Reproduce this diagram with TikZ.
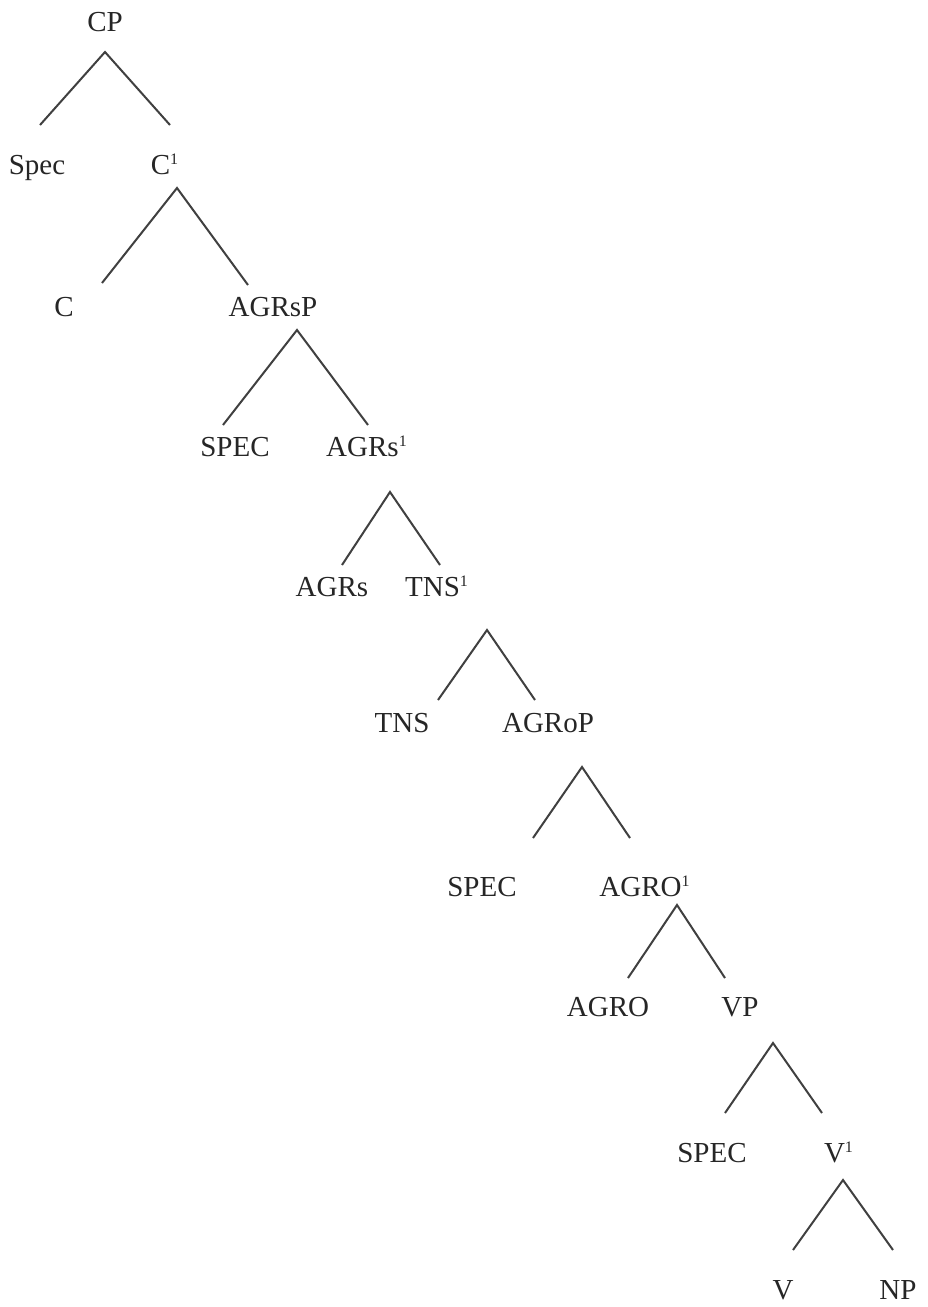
\documentclass[tikz,border=0pt]{standalone}
\usepackage{fontspec}
\setmainfont{Liberation Serif}
\tikzset{
  lbl/.style={anchor=base, inner sep=0pt, text=black!85, font=\fontsize{14.5pt}{17pt}\selectfont},
  edge/.style={draw=black!75, line width=1pt}
}
\newcommand{\pr}{\textsuperscript{\fontsize{8pt}{9pt}\selectfont 1}}
\begin{document}
\begin{tikzpicture}[x=0.5pt,y=-0.5pt]
\fill[white] (0,0) rectangle (927,1307);
\useasboundingbox (0,0) rectangle (927,1307);
% labels (base at visual center + 9.5)
\node[lbl] (CP) at (105,31.5) {CP};
\node[lbl] (Spec) at (37,174.5) {Spec};
\node[lbl] (C1) at (165,174.5) {C\pr};
\node[lbl] (C) at (64,316.5) {C};
\node[lbl] (AGRsP) at (273,316.5) {AGRsP};
\node[lbl] (SPECa) at (235,456.5) {SPEC};
\node[lbl] (AGRs1) at (367,456.5) {AGRs\pr};
\node[lbl] (AGRs) at (332,596.5) {AGRs};
\node[lbl] (TNS1) at (437,596.5) {TNS\pr};
\node[lbl] (TNS) at (402,732.5) {TNS};
\node[lbl] (AGRoP) at (548,732.5) {AGRoP};
\node[lbl] (SPECb) at (482,896.5) {SPEC};
\node[lbl] (AGRO1) at (645,896.5) {AGRO\pr};
\node[lbl] (AGRO) at (608,1016.5) {AGRO};
\node[lbl] (VP) at (740,1016.5) {VP};
\node[lbl] (SPECc) at (712,1162.5) {SPEC};
\node[lbl] (V1) at (839,1162.5) {V\pr};
\node[lbl] (V) at (783,1299.5) {V};
\node[lbl] (NP) at (898,1299.5) {NP};
% branch points
\coordinate (CPa) at (105,52);  \coordinate (CPl) at (40,125);  \coordinate (CPr) at (170,125);
\coordinate (C1a) at (177,188); \coordinate (C1l) at (102,283); \coordinate (C1r) at (248,285);
\coordinate (Sa) at (297,330);  \coordinate (Sl) at (223,425);  \coordinate (Sr) at (368,425);
\coordinate (S1a) at (390,492); \coordinate (S1l) at (342,565); \coordinate (S1r) at (440,565);
\coordinate (Ta) at (487,630);  \coordinate (Tl) at (438,700);  \coordinate (Tr) at (535,700);
\coordinate (Oa) at (582,767);  \coordinate (Ol) at (533,838);  \coordinate (Or) at (630,838);
\coordinate (O1a) at (677,905); \coordinate (O1l) at (628,978); \coordinate (O1r) at (725,978);
\coordinate (VPa) at (773,1043);\coordinate (VPl) at (725,1113);\coordinate (VPr) at (822,1113);
\coordinate (V1a) at (843,1180);\coordinate (V1l) at (793,1250);\coordinate (V1r) at (893,1250);
\draw[edge] (CPl) -- (CPa) -- (CPr);
\draw[edge] (C1l) -- (C1a) -- (C1r);
\draw[edge] (Sl) -- (Sa) -- (Sr);
\draw[edge] (S1l) -- (S1a) -- (S1r);
\draw[edge] (Tl) -- (Ta) -- (Tr);
\draw[edge] (Ol) -- (Oa) -- (Or);
\draw[edge] (O1l) -- (O1a) -- (O1r);
\draw[edge] (VPl) -- (VPa) -- (VPr);
\draw[edge] (V1l) -- (V1a) -- (V1r);
\end{tikzpicture}
\end{document}
